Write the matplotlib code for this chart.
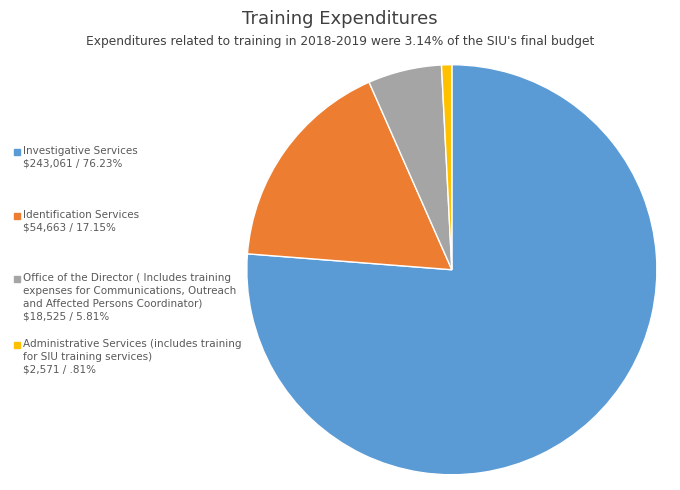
import matplotlib
matplotlib.use("Agg")
import matplotlib.pyplot as plt
from matplotlib.patches import Rectangle

# data
labels = [
    "Investigative Services\n$243,061 / 76.23%",
    "Identification Services\n$54,663 / 17.15%",
    "Office of the Director ( Includes training\nexpenses for Communications, Outreach\nand Affected Persons Coordinator)\n$18,525 / 5.81%",
    "Administrative Services (includes training\nfor SIU training services)\n$2,571 / .81%",
]
values = [243061, 54663, 18525, 2571]
colors = ["#5B9BD5", "#ED7D31", "#A5A5A5", "#FFC000"]
legend_y = [152, 216, 279, 345]   # pixel rows of legend squares

fig = plt.figure(figsize=(6.8, 4.9), dpi=100)
fig.patch.set_facecolor("white")

ax = fig.add_axes([0.363, 0.031, 0.603, 0.837])
ax.pie(values, colors=colors, startangle=90, counterclock=False, radius=1,
       wedgeprops=dict(edgecolor="white", linewidth=1))
ax.set_xlim(-1, 1)
ax.set_ylim(-1, 1)
ax.set_aspect("equal")

fig.text(0.5, 1 - 19 / 490, "Training Expenditures", ha="center", va="center",
         fontsize=13, color="#404040")
fig.text(0.5, 1 - 42 / 490, "Expenditures related to training in 2018-2019 were 3.14% of the SIU's final budget",
         ha="center", va="center", fontsize=8.8, color="#404040")

for lab, c, yp in zip(labels, colors, legend_y):
    y = 1 - yp / 490
    fig.patches.append(Rectangle((14 / 680, y - 3 / 490), 6 / 680, 6 / 490,
                                 transform=fig.transFigure, color=c))
    fig.text(23 / 680, y + 6 / 490, lab, ha="left", va="top", fontsize=7.5,
             color="#595959", linespacing=1.35)

fig.savefig("out.png", dpi=100)
